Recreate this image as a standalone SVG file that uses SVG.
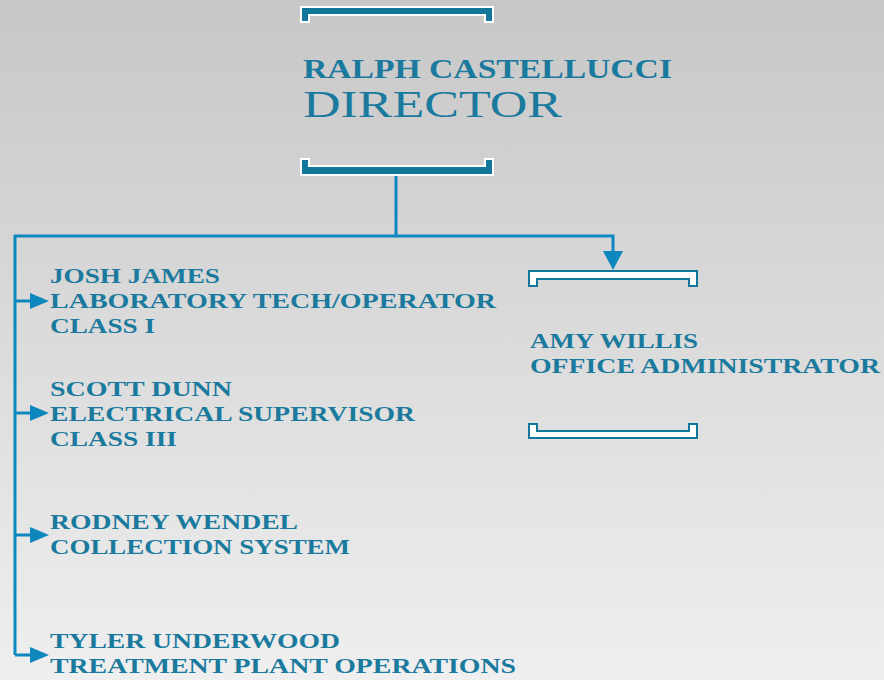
<svg xmlns="http://www.w3.org/2000/svg" width="884" height="680" viewBox="0 0 884 680">
<defs>
<linearGradient id="bg" x1="0" y1="0" x2="0" y2="1">
<stop offset="0" stop-color="#c7c7c7"/>
<stop offset="1" stop-color="#efefef"/>
</linearGradient>
<style>
.t{font-family:"Liberation Serif","DejaVu Serif",serif;fill:#1a7a9e;font-weight:bold}
.s{font-size:21px}
.conn{fill:none;stroke:#0e87bf;stroke-width:3}
.head{fill:#0e87bf}
.dark{fill:#13779b;stroke:#ffffff;stroke-width:2}
.light{fill:#ffffff;stroke:#13779b;stroke-width:2}
</style>
</defs>
<rect width="884" height="680" fill="url(#bg)"/>
<g id="connectors">
<polyline class="conn" points="396,176 396,236 15,236 15,655"/>
<polyline class="conn" points="396,236 613,236 613,252"/>
<path class="head" d="M603,251 L623,251 L613,270 Z"/>
<path d="M15,301 L30,301" class="conn"/>
<path class="head" d="M30,293 L49,301 L30,309 Z"/>
<path d="M15,413 L30,413" class="conn"/>
<path class="head" d="M30,405 L49,413 L30,421 Z"/>
<path d="M15,535 L30,535" class="conn"/>
<path class="head" d="M30,527 L49,535 L30,543 Z"/>
<path d="M15,655 L30,655" class="conn"/>
<path class="head" d="M30,647 L49,655 L30,663 Z"/>
</g>
<g id="director">
<path class="dark" d="M301,7 H493 V22 H485 V15 H309 V22 H301 Z"/>
<path class="dark" d="M301,159 H309 V166 H485 V159 H493 V175 H301 Z"/>
<text class="t" x="303" y="78" font-size="27" textLength="369" lengthAdjust="spacingAndGlyphs">RALPH CASTELLUCCI</text>
<text class="t" x="303" y="117" font-size="37" font-weight="normal" style="font-weight:normal" textLength="259" lengthAdjust="spacingAndGlyphs">DIRECTOR</text>
</g>
<g id="amy">
<path class="light" d="M529,271 H697 V286 H689 V279 H537 V286 H529 Z"/>
<path class="light" d="M529,424 H537 V431 H689 V424 H697 V438 H529 Z"/>
<text class="t s" x="530" y="348" textLength="168" lengthAdjust="spacingAndGlyphs">AMY WILLIS</text>
<text class="t s" x="530" y="373" textLength="350" lengthAdjust="spacingAndGlyphs">OFFICE ADMINISTRATOR</text>
</g>
<g id="josh">
<text class="t s" x="50" y="283" textLength="170" lengthAdjust="spacingAndGlyphs">JOSH JAMES</text>
<text class="t s" x="50" y="308" textLength="446" lengthAdjust="spacingAndGlyphs">LABORATORY TECH/OPERATOR</text>
<text class="t s" x="50" y="333" textLength="105" lengthAdjust="spacingAndGlyphs">CLASS I</text>
</g>
<g id="scott">
<text class="t s" x="50" y="396" textLength="182" lengthAdjust="spacingAndGlyphs">SCOTT DUNN</text>
<text class="t s" x="50" y="421" textLength="365" lengthAdjust="spacingAndGlyphs">ELECTRICAL SUPERVISOR</text>
<text class="t s" x="50" y="446" textLength="127" lengthAdjust="spacingAndGlyphs">CLASS III</text>
</g>
<g id="rodney">
<text class="t s" x="50" y="529" textLength="248" lengthAdjust="spacingAndGlyphs">RODNEY WENDEL</text>
<text class="t s" x="50" y="554" textLength="300" lengthAdjust="spacingAndGlyphs">COLLECTION SYSTEM</text>
</g>
<g id="tyler">
<text class="t s" x="50" y="648" textLength="290" lengthAdjust="spacingAndGlyphs">TYLER UNDERWOOD</text>
<text class="t s" x="50" y="673" textLength="466" lengthAdjust="spacingAndGlyphs">TREATMENT PLANT OPERATIONS</text>
</g>
</svg>
